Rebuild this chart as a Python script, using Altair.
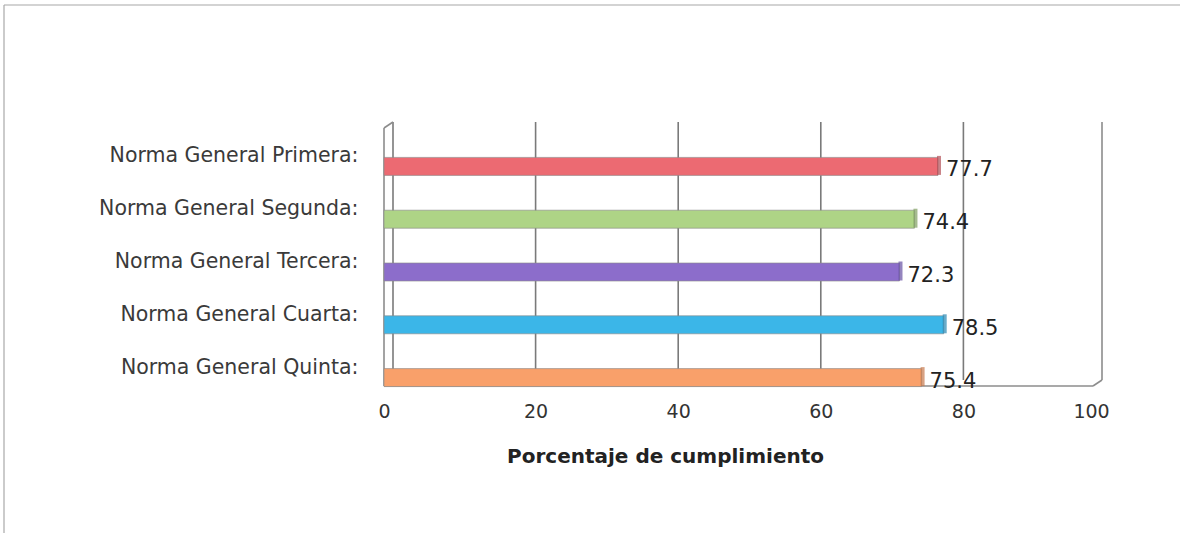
import altair as alt
import pandas as pd

# Compliance percentage for each general norm
normas = [
    "Norma General Primera:",
    "Norma General Segunda:",
    "Norma General Tercera:",
    "Norma General Cuarta:",
    "Norma General Quinta:",
]
valores = [77.7, 74.4, 72.3, 78.5, 75.4]
colores = ["#EC6A72", "#AED486", "#8C6DCB", "#3BB6E8", "#F9A06A"]
tapas = ["#B24E55", "#7F9E5F", "#6750A2", "#2A89B4", "#C77A4E"]
ticks = [0, 20, 40, 60, 80, 100]
back_lines = [0, 20, 40, 60, 80]

df = pd.DataFrame({"norma": normas, "valor": valores, "color": colores, "tapa": tapas})
df["etiqueta"] = [f"{v:.1f}" for v in valores]
grid_df = pd.DataFrame({"t": back_lines})

W, H = 713, 264
FONT = "DejaVu Sans"

x_scale = alt.Scale(domain=[0, 100], nice=False, zero=True)
y_scale = alt.Scale(domain=normas, paddingInner=0, paddingOuter=0)

x_axis = alt.Axis(
    values=ticks, grid=False, domain=False, ticks=False, labelFlush=False,
    labelOffset={
        "condition": [
            {"test": "datum.value == 0", "value": 0},
            {"test": "datum.value == 100", "value": -6},
        ],
        "value": 9,
    },
    labelFont=FONT, labelFontSize=19, labelColor="#333333", labelPadding=16,
    title="Porcentaje de cumplimiento", titleFont=FONT, titleFontSize=20,
    titleFontWeight="bold", titleColor="#222222",
    titleX=281, titleY=70, titleAlign="center", titleBaseline="middle",
)
y_axis = alt.Axis(
    title=None, grid=False, domain=False, ticks=False,
    labelFont=FONT, labelFontSize=20.5, labelColor="#3a3a3a",
    labelPadding=26, labelOffset=8, labelLimit=400,
)

# back-wall grid lines (shifted for the depth effect)
grid = alt.Chart(grid_df).mark_rule(color="#7a7a7a", strokeWidth=1.6, xOffset=9).encode(
    x=alt.X("t:Q", scale=x_scale, axis=x_axis),
    y=alt.value(0), y2=alt.value(H - 6),
)

def line(x, y, x2, y2, color="#8c8c8c", width=1.6):
    return alt.Chart(grid_df.head(1)).mark_rule(color=color, strokeWidth=width).encode(
        x=alt.value(x), y=alt.value(y), x2=alt.value(x2), y2=alt.value(y2)
    )

walls = [
    line(0, 6, 0, H),             # left wall, front edge
    line(0, 6, 9, 0),             # left wall, top edge
    line(0, H, W - 4, H),         # floor, front edge
    line(W - 4, H, W + 5, H - 6), # floor, right corner
    line(W + 5, H - 6, W + 5, 0), # right wall
    # outer chart frame
    line(-380, -117, 1180 - 384, -117, color="#a8a8a8", width=1.2),
    line(-380, -117, -380, 533 - 122, color="#a8a8a8", width=1.2),
]

base = alt.Chart(df)
bars = base.mark_bar(size=18, yOffset=18, stroke="#8a8a8a", strokeWidth=0.8, strokeOpacity=0.8).encode(
    x=alt.X("valor:Q", scale=x_scale),
    y=alt.Y("norma:N", scale=y_scale, axis=y_axis, sort=normas),
    color=alt.Color("color:N", scale=None),
)
caps = base.mark_tick(thickness=4, size=19, yOffset=17, xOffset=1).encode(
    x=alt.X("valor:Q", scale=x_scale),
    y=alt.Y("norma:N", scale=y_scale, sort=normas),
    color=alt.Color("tapa:N", scale=None),
)
labels = base.mark_text(align="left", baseline="middle", dx=8, yOffset=22,
                        font=FONT, fontSize=21, color="#222222").encode(
    x=alt.X("valor:Q", scale=x_scale),
    y=alt.Y("norma:N", scale=y_scale, sort=normas),
    text="etiqueta:N",
)

chart = alt.layer(grid, *walls, bars, caps, labels).properties(
    width=W, height=H,
    autosize=alt.AutoSizeParams(type="none"),
    padding={"left": 384, "top": 122, "right": 97, "bottom": 147},
    background="white",
).configure_view(stroke=None)

chart.save("out.html", embed_options={"renderer": "svg", "actions": False})
